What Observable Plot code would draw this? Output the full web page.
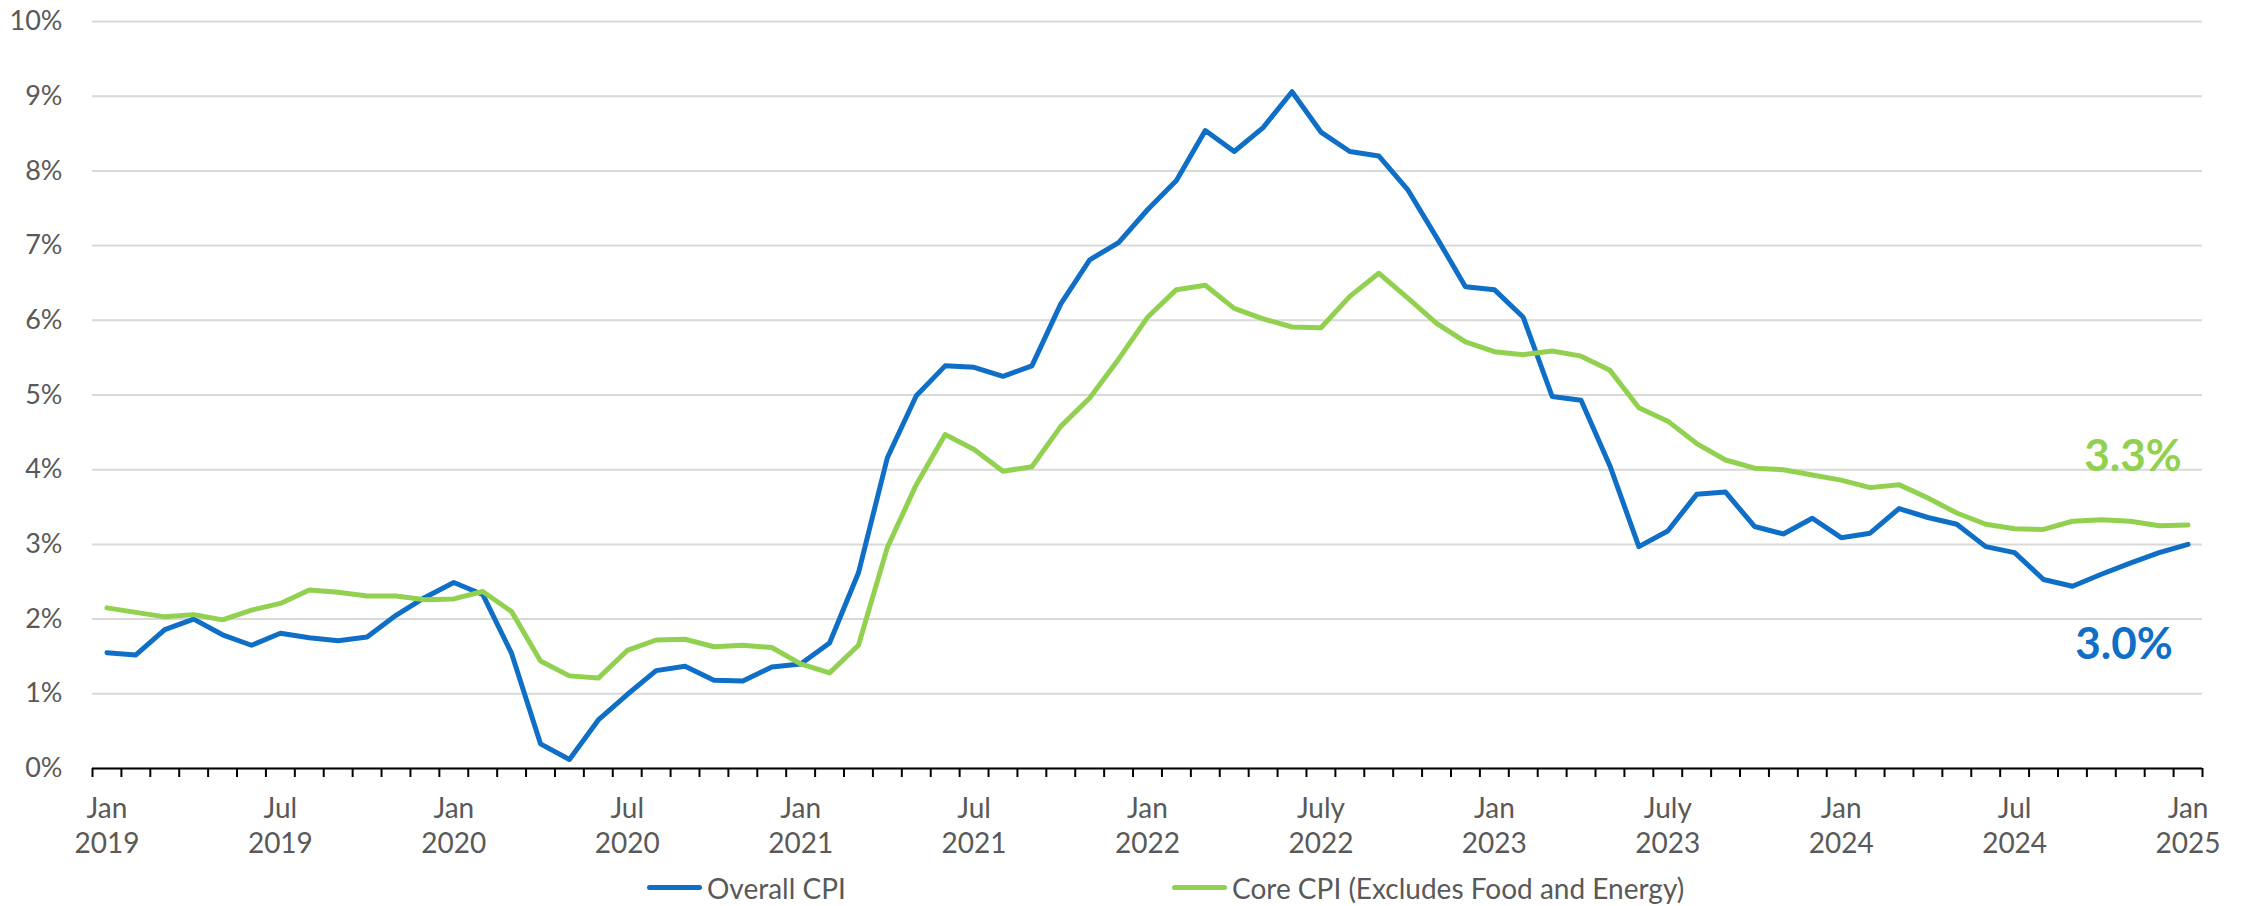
<!DOCTYPE html>
<html>
<head>
<meta charset="utf-8">
<script src="https://cdn.jsdelivr.net/npm/d3@7"></script>
<script src="https://cdn.jsdelivr.net/npm/@observablehq/plot@0.6"></script>
<style>
  html, body { margin: 0; padding: 0; background: #fff; }
  #chart svg { display: block; }
  #legend { position: relative; width: 2241px; height: 44px; font-family: Lato, "Open Sans", sans-serif; font-size: 28px; color: #595959; }
  #legend .sw { position: absolute; width: 55px; height: 5px; border-radius: 2.5px; top: 23px; }
  #legend .lb { position: absolute; top: 8px; line-height: 36px; white-space: nowrap; }
</style>
</head>
<body>
<div id="chart"></div>
<div id="legend"></div>
<script>
// Monthly year-over-year change, Jan 2019 .. Jan 2025 (73 months)
const overallCPI = [
  1.55, 1.52, 1.86, 2.00, 1.79, 1.65, 1.81, 1.75, 1.71, 1.76, 2.05, 2.29,
  2.49, 2.33, 1.54, 0.33, 0.12, 0.65, 0.99, 1.31, 1.37, 1.18, 1.17, 1.36,
  1.40, 1.68, 2.62, 4.16, 4.99, 5.39, 5.37, 5.25, 5.39, 6.22, 6.81, 7.04,
  7.48, 7.87, 8.54, 8.26, 8.58, 9.06, 8.52, 8.26, 8.20, 7.75, 7.11, 6.45,
  6.41, 6.04, 4.98, 4.93, 4.05, 2.97, 3.18, 3.67, 3.70, 3.24, 3.14, 3.35,
  3.09, 3.15, 3.48, 3.36, 3.27, 2.97, 2.89, 2.53, 2.44, 2.60, 2.75, 2.89,
  3.00
];
const coreCPI = [
  2.15, 2.09, 2.03, 2.06, 1.99, 2.12, 2.21, 2.39, 2.36, 2.31, 2.31, 2.26,
  2.27, 2.37, 2.10, 1.44, 1.24, 1.21, 1.58, 1.72, 1.73, 1.63, 1.65, 1.62,
  1.40, 1.28, 1.65, 2.96, 3.80, 4.47, 4.27, 3.98, 4.04, 4.58, 4.96, 5.48,
  6.04, 6.41, 6.47, 6.16, 6.02, 5.91, 5.90, 6.32, 6.63, 6.30, 5.96, 5.71,
  5.58, 5.54, 5.59, 5.52, 5.33, 4.83, 4.65, 4.35, 4.13, 4.02, 4.00, 3.93,
  3.86, 3.76, 3.80, 3.62, 3.42, 3.27, 3.21, 3.20, 3.31, 3.33, 3.31, 3.25,
  3.26
];
const seriesNames = ["Overall CPI", "Core CPI (Excludes Food and Energy)"];
const seriesColors = ["#0F6FC6", "#92D050"];
const endLabels = ["3.0%", "3.3%"];
const labelMonthIdx = [0, 6, 12, 18, 24, 30, 36, 42, 48, 54, 60, 66, 72];
const labelTexts = ["Jan\n2019", "Jul\n2019", "Jan\n2020", "Jul\n2020", "Jan\n2021", "Jul\n2021",
                    "Jan\n2022", "July\n2022", "Jan\n2023", "July\n2023", "Jan\n2024", "Jul\n2024", "Jan\n2025"];
const yTicks = [0, 1, 2, 3, 4, 5, 6, 7, 8, 9, 10];

const nMonths = overallCPI.length;
const rows = [];
[overallCPI, coreCPI].forEach((arr, s) => arr.forEach((v, i) => rows.push({i: i + 0.5, v, s: seriesNames[s]})));
const labelMap = new Map(labelMonthIdx.map((m, k) => [m, labelTexts[k]]));
const last = [
  {i: nMonths - 0.5, v: overallCPI[nMonths - 1], t: endLabels[0], c: seriesColors[0]},
  {i: nMonths - 0.5, v: coreCPI[nMonths - 1], t: endLabels[1], c: seriesColors[1]}
];

const font = "Lato, 'Open Sans', sans-serif";
const chart = Plot.plot({
  width: 2241, height: 862,
  marginLeft: 92, marginRight: 39, marginTop: 21, marginBottom: 94,
  style: {fontFamily: font, color: "#595959", background: "#fff", overflow: "visible"},
  x: {type: "linear", domain: [0, nMonths]},
  y: {domain: [0, 10]},
  color: {domain: seriesNames, range: seriesColors},
  marks: [
    Plot.gridY(yTicks, {stroke: "#d9d9d9", strokeOpacity: 1, strokeWidth: 2}),
    Plot.axisY(yTicks, {tickSize: 0, tickPadding: 30, tickFormat: d => d + "%", fontSize: 27, fill: "#595959", label: null}),
    Plot.ruleY([0], {stroke: "#000", strokeWidth: 2}),
    Plot.axisX(d3.range(0, nMonths + 1), {tickSize: 9, stroke: "#000", strokeWidth: 2, tickFormat: () => "", label: null}),
    Plot.axisX(labelMonthIdx.map(m => m + 0.5), {tickSize: 0, tickPadding: 25, tickFormat: d => labelMap.get(Math.round(d - 0.5)), fontSize: 28, lineHeight: 1.25, fill: "#595959", label: null}),
    Plot.line(rows, {x: "i", y: "v", z: "s", stroke: "s", strokeWidth: 5, strokeLinejoin: "round", strokeLinecap: "round"}),
    Plot.text([last[1]], {x: "i", y: "v", text: "t", fill: "c", fontSize: 44, fontWeight: "bold", dx: -55, dy: -68}),
    Plot.text([last[0]], {x: "i", y: "v", text: "t", fill: "c", fontSize: 44, fontWeight: "bold", dx: -64, dy: 101})
  ]
});
document.getElementById("chart").appendChild(chart);

// Legend
const legend = document.getElementById("legend");
const legendX = [647, 1172];
seriesNames.forEach((name, k) => {
  const sw = document.createElement("div");
  sw.className = "sw";
  sw.style.left = legendX[k] + "px";
  sw.style.background = seriesColors[k];
  legend.appendChild(sw);
  const lb = document.createElement("div");
  lb.className = "lb";
  lb.style.left = (legendX[k] + 60) + "px";
  lb.textContent = name;
  legend.appendChild(lb);
});
</script>
</body>
</html>
